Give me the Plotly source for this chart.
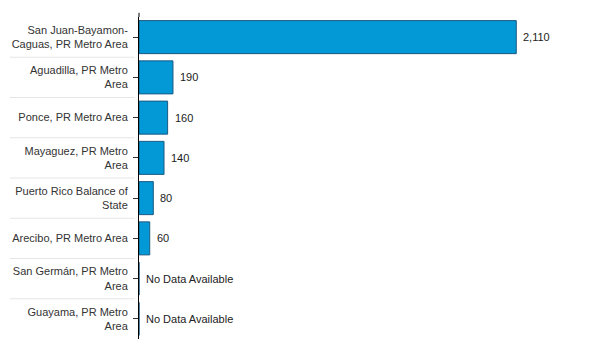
import plotly.graph_objects as go

categories = [
    "San Juan-Bayamon-<br>Caguas, PR Metro Area",
    "Aguadilla, PR Metro<br>Area",
    "Ponce, PR Metro Area",
    "Mayaguez, PR Metro<br>Area",
    "Puerto Rico Balance of<br>State",
    "Arecibo, PR Metro Area",
    "San Germán, PR Metro<br>Area",
    "Guayama, PR Metro<br>Area",
]
values = [2110, 190, 160, 140, 80, 60, None, None]
no_data_label = "No Data Available"

FONT = "Liberation Sans, Arial, sans-serif"

fig = go.Figure()
fig.add_trace(go.Bar(
    y=categories,
    x=[v if v is not None else 0 for v in values],
    orientation="h",
    marker=dict(color="#0398D6", line=dict(color="#1B5A82", width=1)),
    hoverinfo="skip",
))

annotations = []
for c, v in zip(categories, values):
    txt = no_data_label if v is None else f"{v:,}"
    annotations.append(dict(x=v if v is not None else 0, y=c, xref="x", yref="y", text=txt,
                            showarrow=False, xanchor="left", xshift=5,
                            font=dict(family=FONT, size=11, color="#222")))

shapes = []
n = len(categories)
for i in range(n - 1):
    shapes.append(dict(type="line", xref="paper", yref="y",
                       x0=-0.289, x1=-0.01, y0=i + 0.5, y1=i + 0.5,
                       line=dict(color="#E6E6E6", width=1)))
shapes.append(dict(type="line", xref="paper", yref="paper", x0=0, x1=0, y0=1, y1=1.013,
                   line=dict(color="black", width=1)))

fig.update_layout(
    width=600, height=360,
    margin=dict(l=139, r=14, t=17, b=21),
    plot_bgcolor="white", paper_bgcolor="white",
    showlegend=False,
    bargap=0.18,
    font=dict(family=FONT, size=11, color="#333"),
    xaxis=dict(range=[0, 2500], visible=False, fixedrange=True, automargin=False),
    yaxis=dict(autorange="reversed", showline=True, linecolor="black", linewidth=1,
               ticks="outside", ticklen=5, tickcolor="#333", showgrid=False,
               automargin=False, ticklabelstandoff=3,
               tickfont=dict(family=FONT, size=11, color="#333"), fixedrange=True),
    annotations=annotations,
    shapes=shapes,
)

fig.write_html("out.html", post_script="document.body.style.margin='0';",
               config={"displayModeBar": False})
